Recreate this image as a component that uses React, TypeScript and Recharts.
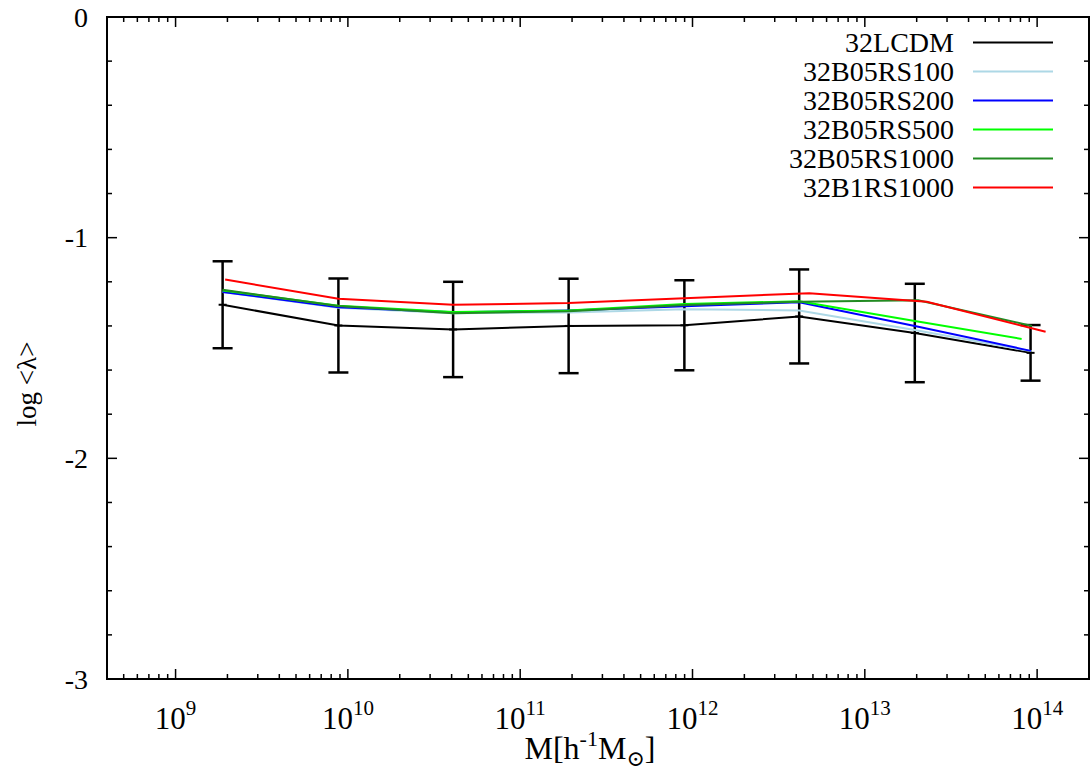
import React from 'react';
import { LineChart, Line, XAxis, YAxis, ErrorBar, ReferenceArea, Legend } from 'recharts';

// mass bins (h^-1 Msun), per run
const massLCDM = [1.875e9, 8.81e9, 4.08e10, 1.91e11, 8.97e11, 4.16e12, 1.95e13, 9.16e13];
const massB05RS100 = [1.875e9, 8.81e9, 4.08e10, 1.91e11, 8.97e11, 4.16e12, 1.95e13, 9.3e13];
const massB05RS200 = [1.875e9, 8.81e9, 4.08e10, 1.91e11, 8.97e11, 4.16e12, 1.95e13, 9.2e13];
const massB05RS500 = [1.875e9, 8.81e9, 4.08e10, 1.91e11, 8.97e11, 4.16e12, 1.95e13, 8.13e13];
const massB05RS1000 = [1.875e9, 8.81e9, 4.08e10, 1.91e11, 8.97e11, 4.16e12, 2.04e13, 9.33e13];
const massB1RS1000 = [1.94e9, 8.81e9, 4.08e10, 1.91e11, 8.97e11, 4.76e12, 2.29e13, 1.12e14];

// log <lambda>
const lambdaLCDM = [-1.304, -1.398, -1.416, -1.4, -1.397, -1.357, -1.432, -1.522];
const errLCDM = [0.197, 0.213, 0.216, 0.214, 0.204, 0.213, 0.223, 0.126];
const lambdaB05RS100 = [-1.246, -1.318, -1.342, -1.339, -1.324, -1.33, -1.418, -1.515];
const lambdaB05RS200 = [-1.246, -1.315, -1.338, -1.33, -1.311, -1.293, -1.4, -1.513];
const lambdaB05RS500 = [-1.239, -1.308, -1.337, -1.33, -1.301, -1.288, -1.378, -1.459];
const lambdaB05RS1000 = [-1.236, -1.31, -1.342, -1.334, -1.305, -1.29, -1.284, -1.4];
const lambdaB1RS1000 = [-1.19, -1.277, -1.304, -1.296, -1.274, -1.252, -1.29, -1.426];

const xMajorTicks = [1e9, 1e10, 1e11, 1e12, 1e13, 1e14];
const xMinorTicks = [5e8, 6e8, 7e8, 8e8, 9e8].concat(
  [1e9, 1e10, 1e11, 1e12, 1e13].flatMap((d) => [2, 3, 4, 5, 6, 7, 8, 9].map((k) => k * d))
);
const yMajorTicks = [-3, -2, -1, 0];
const yMinorTicks = [-2.8, -2.6, -2.4, -2.2, -1.8, -1.6, -1.4, -1.2, -0.8, -0.6, -0.4, -0.2];

const FONT = '"Liberation Serif", "DejaVu Serif", serif';
const CHART_W = 1091;
const CHART_H = 774;
const MARGIN = { top: 17, right: 2, left: 0, bottom: 0 };
const Y_AXIS_W = 107;
const X_AXIS_H = 95;
const PLOT_W = CHART_W - MARGIN.left - MARGIN.right - Y_AXIS_W;
const PLOT_H = CHART_H - MARGIN.top - MARGIN.bottom - X_AXIS_H;

const toPoints = (mass: number[], vals: number[], err?: number[]) =>
  mass.map((m, i) => ({ m, v: vals[i], err: err ? err[i] : 0 }));

const series = [
  { name: '32LCDM', color: '#000000', data: toPoints(massLCDM, lambdaLCDM, errLCDM) },
  { name: '32B05RS100', color: '#add8e6', data: toPoints(massB05RS100, lambdaB05RS100) },
  { name: '32B05RS200', color: '#0000ff', data: toPoints(massB05RS200, lambdaB05RS200) },
  { name: '32B05RS500', color: '#00ff00', data: toPoints(massB05RS500, lambdaB05RS500) },
  { name: '32B05RS1000', color: '#228b22', data: toPoints(massB05RS1000, lambdaB05RS1000) },
  { name: '32B1RS1000', color: '#ff0000', data: toPoints(massB1RS1000, lambdaB1RS1000) },
];
const seriesOrder = series.map((s) => s.name);

function XTick(props: any) {
  const { x, y, payload } = props;
  const v = payload.value;
  const major = xMajorTicks.includes(v);
  const len = major ? 10 : 5;
  const exp = Math.round(Math.log10(v));
  return (
    <g>
      <line x1={x} x2={x} y1={y} y2={y - len} stroke="#000" strokeWidth={1.5} />
      <line x1={x} x2={x} y1={y - PLOT_H} y2={y - PLOT_H + len} stroke="#000" strokeWidth={1.5} />
      {major && (
        <text x={x} y={y + 50} textAnchor="middle" fontFamily={FONT} fontSize={31} fill="#000">
          10
          <tspan dy={-14} fontSize={21}>
            {exp}
          </tspan>
        </text>
      )}
    </g>
  );
}

function YTick(props: any) {
  const { x, y, payload } = props;
  const v = payload.value;
  const major = yMajorTicks.includes(v);
  const len = major ? 10 : 5;
  return (
    <g>
      <line x1={x} x2={x + len} y1={y} y2={y} stroke="#000" strokeWidth={1.5} />
      <line x1={x + PLOT_W} x2={x + PLOT_W - len} y1={y} y2={y} stroke="#000" strokeWidth={1.5} />
      {major && (
        <text x={x - 19} y={y} dy="0.35em" textAnchor="end" fontFamily={FONT} fontSize={28} fill="#000">
          {String(v)}
        </text>
      )}
    </g>
  );
}

function XTitle(props: any) {
  const { viewBox } = props;
  const cx = viewBox.x + viewBox.width / 2 - 8;
  return (
    <text x={cx} y={viewBox.y + 80} textAnchor="middle" fontFamily={FONT} fontSize={32} fill="#000">
      M[h
      <tspan dy={-13} fontSize={22}>-1</tspan>
      <tspan dy={13}>M</tspan>
      <tspan dy={7} fontSize={22}>⊙</tspan>
      <tspan dy={-7}>]</tspan>
    </text>
  );
}

function YTitle(props: any) {
  const { viewBox } = props;
  const x = viewBox.x + 27;
  const y = 384;
  return (
    <text
      x={x}
      y={y}
      transform={`rotate(-90, ${x}, ${y})`}
      textAnchor="middle"
      dy="0.35em"
      fontFamily={FONT}
      fontSize={27}
      fill="#000"
    >
      log &lt;λ&gt;
    </text>
  );
}

function KeyBox({ payload }: any) {
  const rows = [...(payload || [])].sort(
    (a: any, b: any) => seriesOrder.indexOf(a.value) - seriesOrder.indexOf(b.value)
  );
  return (
    <div style={{ fontFamily: FONT, fontSize: 28, color: '#000' }}>
      {rows.map((p: any) => (
        <div key={p.value} style={{ display: 'flex', alignItems: 'center', height: 29 }}>
          <span style={{ width: 174, textAlign: 'right', lineHeight: '29px', whiteSpace: 'nowrap' }}>{p.value}</span>
          <svg width={99} height={29} style={{ display: 'block' }}>
            <line x1={19} x2={99} y1={14.5} y2={14.5} stroke={p.color} strokeWidth={2} />
          </svg>
        </div>
      ))}
    </div>
  );
}

const lcdmDot = (p: any) => (
  <line key={`d${p.index}`} x1={p.cx - 4} x2={p.cx + 4} y1={p.cy} y2={p.cy} stroke="#000" strokeWidth={2} />
);

export default function App() {
  return (
    <div style={{ position: 'absolute', left: 0, top: 0, background: '#fff' }}>
      <LineChart width={CHART_W} height={CHART_H} margin={MARGIN}>
        <XAxis
          dataKey="m"
          type="number"
          scale="log"
          domain={[4e8, 2e14]}
          allowDataOverflow
          ticks={[...xMinorTicks, ...xMajorTicks].sort((a, b) => a - b)}
          interval={0}
          tick={<XTick />}
          tickLine={false}
          axisLine={false}
          tickSize={0}
          tickMargin={0}
          height={X_AXIS_H}
          label={<XTitle />}
        />
        <YAxis
          type="number"
          domain={[-3, 0]}
          allowDataOverflow
          ticks={[...yMajorTicks, ...yMinorTicks].sort((a, b) => a - b)}
          interval={0}
          tick={<YTick />}
          tickLine={false}
          axisLine={false}
          tickSize={0}
          tickMargin={0}
          width={Y_AXIS_W}
          label={<YTitle />}
        />
        <ReferenceArea x1={4e8} x2={2e14} y1={-3} y2={0} fill="none" stroke="#000" strokeWidth={2} />
        {series.map((s, i) => (
          <Line
            key={s.name}
            data={s.data}
            dataKey="v"
            name={s.name}
            type="linear"
            stroke={s.color}
            strokeWidth={2}
            dot={i === 0 ? lcdmDot : false}
            activeDot={false}
            isAnimationActive={false}
          >
            {i === 0 && (
              <ErrorBar dataKey="err" width={10} stroke="#000" strokeWidth={2.5} direction="y" isAnimationActive={false} />
            )}
          </Line>
        ))}
        <Legend
          layout="vertical"
          align="center"
          verticalAlign="middle"
          content={<KeyBox />}
          wrapperStyle={{ left: 780, top: 28, width: 300 }}
        />
      </LineChart>
    </div>
  );
}
